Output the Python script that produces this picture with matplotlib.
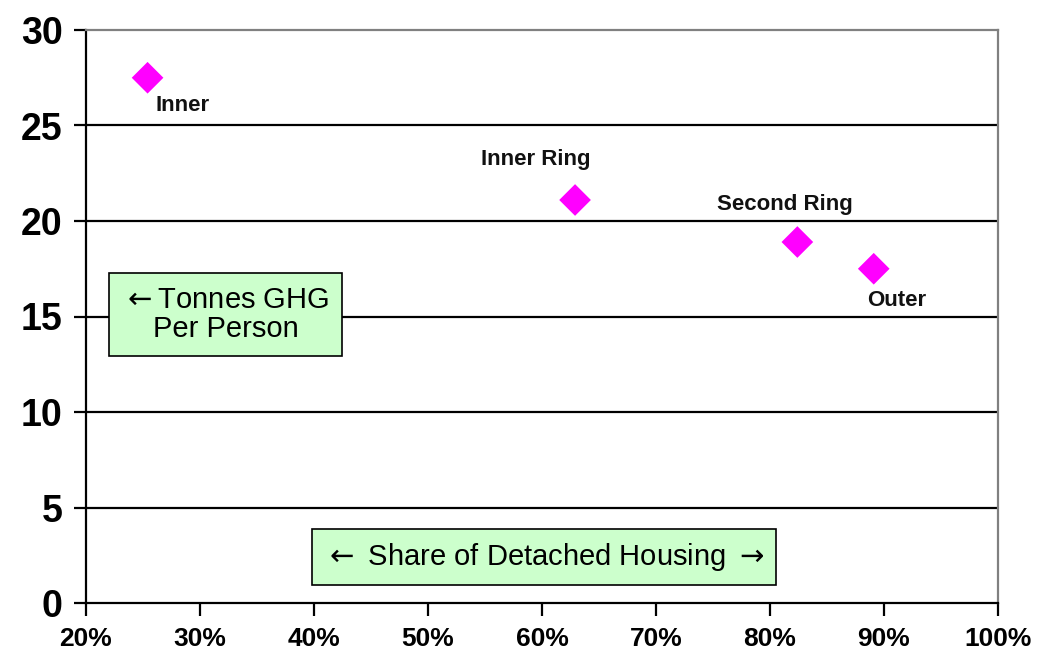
import matplotlib
matplotlib.use("Agg")
import matplotlib.pyplot as plt
from matplotlib.ticker import FuncFormatter

# Data
zones = ['Inner', 'Inner Ring', 'Second Ring', 'Outer']
detached_share = [25.4, 62.9, 82.4, 89.1]     # % detached housing
ghg_per_person = [27.5, 21.1, 18.9, 17.5]     # tonnes GHG per person

x_ticks = [20, 30, 40, 50, 60, 70, 80, 90, 100]
y_ticks = [0, 5, 10, 15, 20, 25, 30]

FONT = ['Liberation Sans Narrow', 'Liberation Sans', 'DejaVu Sans']
plt.rcParams['font.family'] = FONT

fig = plt.figure(figsize=(10.38, 6.57), dpi=100)
ax = fig.add_axes([86 / 1038, 1 - 603 / 657, 912 / 1038, 573 / 657])

ax.scatter(detached_share, ghg_per_person, marker='D', s=260,
           color='#ff00ff', edgecolor='none', zorder=3)

# point labels (offsets in points)
offsets = {
    'Inner': (6, -20, 'left'),
    'Inner Ring': (-28, 29, 'center'),
    'Second Ring': (-9, 27, 'center'),
    'Outer': (-5, -23, 'left'),
}
for name, x, y in zip(zones, detached_share, ghg_per_person):
    dx, dy, ha = offsets[name]
    ax.annotate(name, (x, y), xytext=(dx, dy), textcoords='offset points',
                ha=ha, va='center', fontsize=16, fontweight='bold',
                color='#111111')

ax.set_xlim(20, 100)
ax.set_ylim(0, 30)
ax.set_xticks(x_ticks)
ax.set_yticks(y_ticks)
ax.xaxis.set_major_formatter(FuncFormatter(lambda v, p: f'{int(v)}%'))

for yv in y_ticks[1:-1]:
    ax.axhline(yv, color='black', lw=1.6, zorder=1)

ax.spines['left'].set_color('black')
ax.spines['left'].set_linewidth(1.6)
ax.spines['bottom'].set_color('black')
ax.spines['bottom'].set_linewidth(1.6)
ax.spines['top'].set_color('#808080')
ax.spines['top'].set_linewidth(1.6)
ax.spines['right'].set_color('#808080')
ax.spines['right'].set_linewidth(1.6)

ax.tick_params(axis='y', direction='out', length=9, width=1.6,
               labelsize=27, pad=8)
ax.tick_params(axis='x', direction='out', length=9, width=1.6,
               labelsize=19, pad=8)
for lab in ax.get_xticklabels() + ax.get_yticklabels():
    lab.set_fontweight('bold')

box = dict(boxstyle='square,pad=0.45', facecolor='#ccffcc',
           edgecolor='black', linewidth=1.2)
ax.text(0.153, 0.503, '$\\leftarrow$Tonnes GHG\nPer Person',
        transform=ax.transAxes, ha='center', va='center', fontsize=21,
        linespacing=1.05, bbox=box, zorder=4)
ax.text(0.502, 0.080, '$\\leftarrow$ Share of Detached Housing $\\rightarrow$',
        transform=ax.transAxes, ha='center', va='center', fontsize=21,
        bbox=dict(box, boxstyle='square,pad=0.4'), zorder=4)

fig.savefig('out.png', dpi=100, facecolor='white')
